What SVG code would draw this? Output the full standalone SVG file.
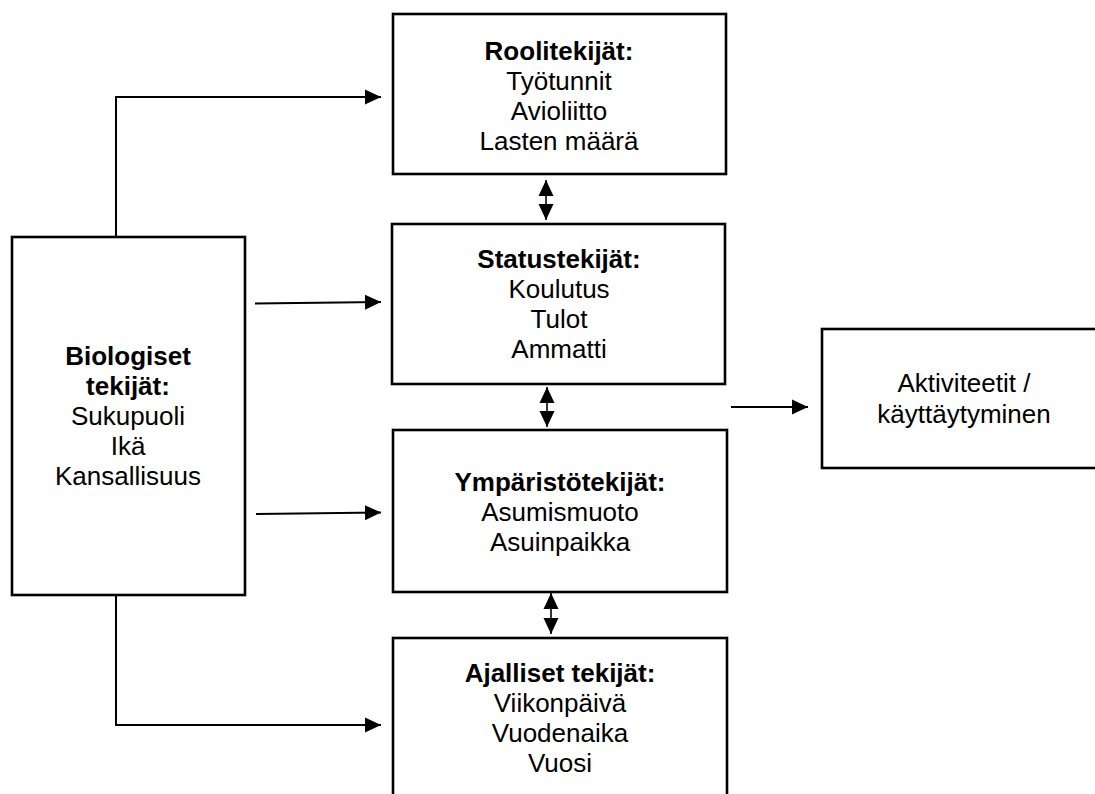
<svg xmlns="http://www.w3.org/2000/svg" width="1095" height="794" viewBox="0 0 1095 794">
<defs>
<style>
.box{fill:#fff;stroke:#000;stroke-width:2.6}
.t{font-family:"Liberation Sans",Arial,sans-serif;font-size:26px;fill:#000;text-anchor:middle}
.b{font-weight:bold}
.c{fill:none;stroke:#000;stroke-width:2}
.d{fill:none;stroke:#000;stroke-width:1.6}
</style>
<marker id="ah" markerUnits="userSpaceOnUse" markerWidth="16" markerHeight="16" refX="16" refY="7.5" orient="auto-start-reverse" viewBox="0 0 16 15">
<path d="M0,0 L16,7.5 L0,15 z" fill="#000"/>
</marker>
</defs>
<rect width="1095" height="794" fill="#fff"/>
<g id="connectors">
<polyline class="c" points="116,237 116,97 381,97" marker-end="url(#ah)"/>
<line class="c" x1="255" y1="303.5" x2="381" y2="302" marker-end="url(#ah)"/>
<line class="c" x1="256" y1="514" x2="381" y2="512.5" marker-end="url(#ah)"/>
<polyline class="c" points="116,595 116,725 381,725" marker-end="url(#ah)"/>
<line class="d" x1="546" y1="180" x2="546" y2="220" marker-start="url(#ah)" marker-end="url(#ah)"/>
<line class="d" x1="547" y1="387" x2="547" y2="427" marker-start="url(#ah)" marker-end="url(#ah)"/>
<line class="d" x1="551" y1="593" x2="551" y2="634" marker-start="url(#ah)" marker-end="url(#ah)"/>
<line class="c" x1="731" y1="407" x2="808" y2="407" marker-end="url(#ah)"/>
</g>
<g id="roolitekijat">
<rect class="box" x="393" y="14" width="333" height="160"/>
<text class="t b" x="559" y="60">Roolitekijät:</text>
<text class="t" x="559" y="90">Työtunnit</text>
<text class="t" x="559" y="120">Avioliitto</text>
<text class="t" x="559" y="150">Lasten määrä</text>
</g>
<g id="statustekijat">
<rect class="box" x="392" y="224" width="333" height="160"/>
<text class="t b" x="559" y="268">Statustekijät:</text>
<text class="t" x="559" y="298">Koulutus</text>
<text class="t" x="559" y="328">Tulot</text>
<text class="t" x="559" y="358">Ammatti</text>
</g>
<g id="ymparistotekijat">
<rect class="box" x="393" y="430" width="334" height="162"/>
<text class="t b" x="560" y="491">Ympäristötekijät:</text>
<text class="t" x="560" y="521">Asumismuoto</text>
<text class="t" x="560" y="551">Asuinpaikka</text>
</g>
<g id="ajalliset">
<rect class="box" x="393" y="638" width="334" height="170"/>
<text class="t b" x="560" y="682">Ajalliset tekijät:</text>
<text class="t" x="560" y="712">Viikonpäivä</text>
<text class="t" x="560" y="742">Vuodenaika</text>
<text class="t" x="560" y="772">Vuosi</text>
</g>
<g id="biologiset">
<rect class="box" x="12" y="237" width="233" height="358"/>
<text class="t b" x="128" y="365">Biologiset</text>
<text class="t b" x="128" y="395">tekijät:</text>
<text class="t" x="128" y="425">Sukupuoli</text>
<text class="t" x="128" y="455">Ikä</text>
<text class="t" x="128" y="485">Kansallisuus</text>
</g>
<g id="aktiviteetit">
<rect class="box" x="822" y="329" width="280" height="139"/>
<text class="t" x="964" y="392">Aktiviteetit /</text>
<text class="t" x="964" y="423">käyttäytyminen</text>
</g>
</svg>
